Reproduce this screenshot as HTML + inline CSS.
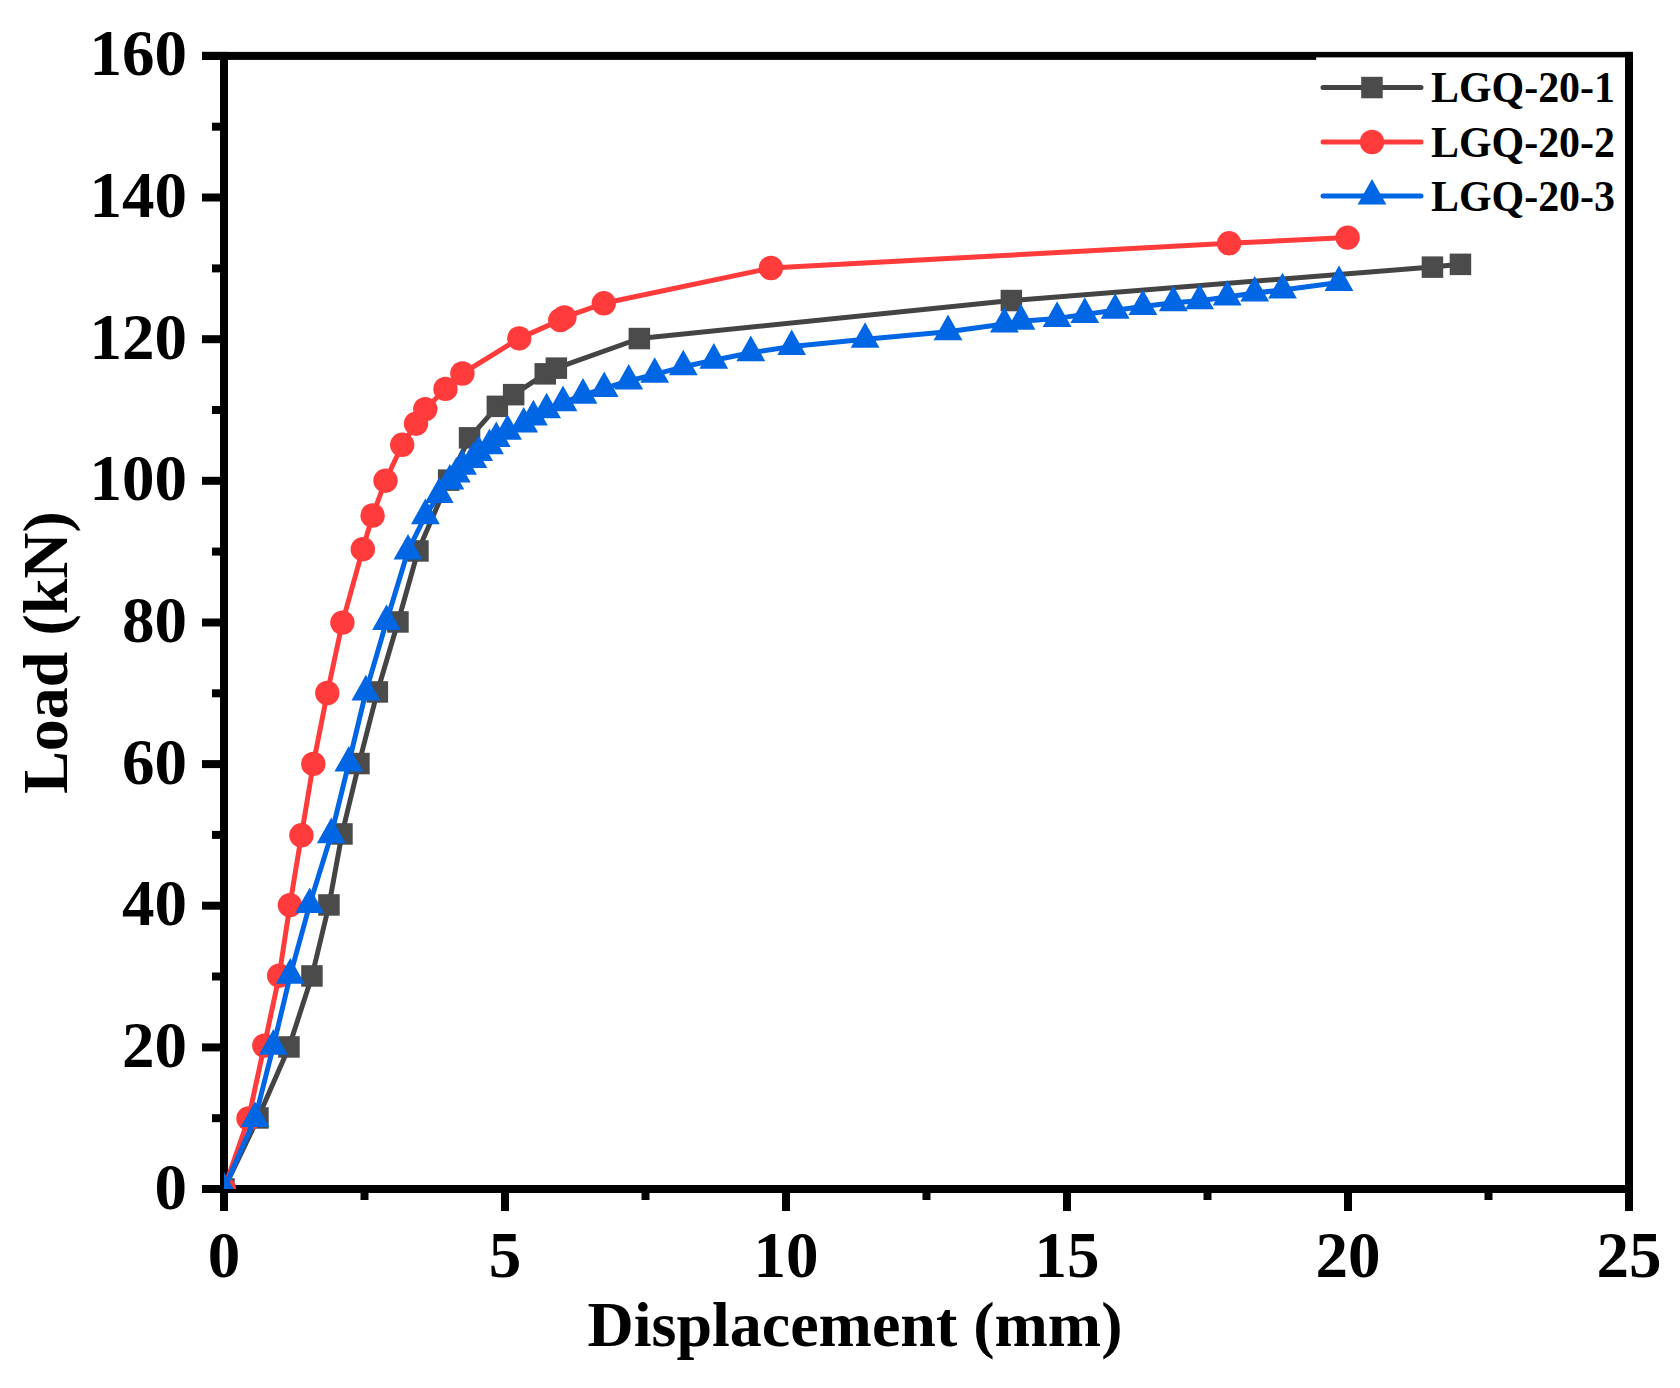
<!DOCTYPE html><html><head><meta charset="utf-8"><title>Load-Displacement</title><style>html,body{margin:0;padding:0;background:#fff;}svg{display:block;}text{font-family:"Liberation Serif",serif;font-weight:bold;fill:#000;}</style></head><body>
<svg width="1680" height="1388" viewBox="0 0 1680 1388">
<rect width="1680" height="1388" fill="#fff"/>
<defs><clipPath id="c"><rect x="224.0" y="55.9" width="1405.0" height="1133.1"/></clipPath></defs>
<g fill="#000">
<rect x="202" y="51.9" width="1431" height="8"/>
<rect x="202" y="1185" width="1431" height="8"/>
<rect x="220" y="51.9" width="8" height="1141.1"/>
<rect x="1625" y="51.9" width="8" height="1141.1"/>
<rect x="202" y="1185" width="18" height="8"/>
<rect x="212" y="1114.2" width="8" height="8"/>
<rect x="202" y="1043.4" width="18" height="8"/>
<rect x="212" y="972.5" width="8" height="8"/>
<rect x="202" y="901.7" width="18" height="8"/>
<rect x="212" y="830.9" width="8" height="8"/>
<rect x="202" y="760.1" width="18" height="8"/>
<rect x="212" y="689.3" width="8" height="8"/>
<rect x="202" y="618.5" width="18" height="8"/>
<rect x="212" y="547.6" width="8" height="8"/>
<rect x="202" y="476.8" width="18" height="8"/>
<rect x="212" y="406" width="8" height="8"/>
<rect x="202" y="335.2" width="18" height="8"/>
<rect x="212" y="264.4" width="8" height="8"/>
<rect x="202" y="193.5" width="18" height="8"/>
<rect x="212" y="122.7" width="8" height="8"/>
<rect x="202" y="51.9" width="18" height="8"/>
<rect x="220" y="1193" width="8" height="18"/>
<rect x="360.5" y="1193" width="8" height="7"/>
<rect x="501" y="1193" width="8" height="18"/>
<rect x="641.5" y="1193" width="8" height="7"/>
<rect x="782" y="1193" width="8" height="18"/>
<rect x="922.5" y="1193" width="8" height="7"/>
<rect x="1063" y="1193" width="8" height="18"/>
<rect x="1203.5" y="1193" width="8" height="7"/>
<rect x="1344" y="1193" width="8" height="18"/>
<rect x="1484.5" y="1193" width="8" height="7"/>
<rect x="1625" y="1193" width="8" height="18"/>
</g>
<g font-size="65">
<text x="187" y="1208.5" text-anchor="end">0</text>
<text x="187" y="1066.9" text-anchor="end">20</text>
<text x="187" y="925.2" text-anchor="end">40</text>
<text x="187" y="783.6" text-anchor="end">60</text>
<text x="187" y="642" text-anchor="end">80</text>
<text x="187" y="500.3" text-anchor="end">100</text>
<text x="187" y="358.7" text-anchor="end">120</text>
<text x="187" y="217" text-anchor="end">140</text>
<text x="187" y="75.4" text-anchor="end">160</text>
<text x="224" y="1276.5" text-anchor="middle">0</text>
<text x="505" y="1276.5" text-anchor="middle">5</text>
<text x="786" y="1276.5" text-anchor="middle">10</text>
<text x="1067" y="1276.5" text-anchor="middle">15</text>
<text x="1348" y="1276.5" text-anchor="middle">20</text>
<text x="1629" y="1276.5" text-anchor="middle">25</text>
</g>
<text x="855" y="1346" font-size="64" text-anchor="middle">Displacement (mm)</text>
<text transform="translate(67 652.5) rotate(-90)" font-size="64" text-anchor="middle">Load (kN)</text>
<rect x="1316.2" y="57.4" width="308.8" height="170" fill="#fff"/>
<g clip-path="url(#c)">
<polyline fill="none" stroke="#444444" stroke-width="5" stroke-linejoin="round" points="224,1189 258,1118 289,1047 312,976 329,905 342,834 359,763.5 377.3,692 398,622 418,551 448.6,480.2 469.5,437.8 497.4,406.4 513.6,394.7 545.3,373.9 556.4,368.1 639.4,338.5 1011.4,300.5 1432.4,267.1 1460.4,264.3"/>
<rect x="213.2" y="1178.2" width="21.5" height="21.5" fill="#4B4B4B"/><rect x="247.2" y="1107.2" width="21.5" height="21.5" fill="#4B4B4B"/><rect x="278.2" y="1036.2" width="21.5" height="21.5" fill="#4B4B4B"/><rect x="301.2" y="965.2" width="21.5" height="21.5" fill="#4B4B4B"/><rect x="318.2" y="894.2" width="21.5" height="21.5" fill="#4B4B4B"/><rect x="331.2" y="823.2" width="21.5" height="21.5" fill="#4B4B4B"/><rect x="348.2" y="752.8" width="21.5" height="21.5" fill="#4B4B4B"/><rect x="366.6" y="681.2" width="21.5" height="21.5" fill="#4B4B4B"/><rect x="387.2" y="611.2" width="21.5" height="21.5" fill="#4B4B4B"/><rect x="407.2" y="540.2" width="21.5" height="21.5" fill="#4B4B4B"/><rect x="437.9" y="469.4" width="21.5" height="21.5" fill="#4B4B4B"/><rect x="458.8" y="427.1" width="21.5" height="21.5" fill="#4B4B4B"/><rect x="486.6" y="395.6" width="21.5" height="21.5" fill="#4B4B4B"/><rect x="502.9" y="383.9" width="21.5" height="21.5" fill="#4B4B4B"/><rect x="534.5" y="363.1" width="21.5" height="21.5" fill="#4B4B4B"/><rect x="545.6" y="357.4" width="21.5" height="21.5" fill="#4B4B4B"/><rect x="628.6" y="327.8" width="21.5" height="21.5" fill="#4B4B4B"/><rect x="1000.6" y="289.8" width="21.5" height="21.5" fill="#4B4B4B"/><rect x="1421.7" y="256.4" width="21.5" height="21.5" fill="#4B4B4B"/><rect x="1449.7" y="253.6" width="21.5" height="21.5" fill="#4B4B4B"/>
<polyline fill="none" stroke="#FF3B3B" stroke-width="5" stroke-linejoin="round" points="224,1189 248.5,1118.5 264.3,1045.6 279.2,975.7 289.9,905.1 301.4,835.3 313.3,763.9 327.3,693 342.4,622.6 362.8,549.2 372.6,515.5 385.5,480.7 402.2,444.8 416,423.7 425.3,409.1 445.5,388.9 462.4,373.5 519.2,338.4 560.3,320.1 564.4,317.4 603.8,303.3 770.9,268 1229.1,243.3 1347.6,237.6"/>
<circle cx="224" cy="1189" r="12.2" fill="#FF3B3B"/><circle cx="248.5" cy="1118.5" r="12.2" fill="#FF3B3B"/><circle cx="264.3" cy="1045.6" r="12.2" fill="#FF3B3B"/><circle cx="279.2" cy="975.7" r="12.2" fill="#FF3B3B"/><circle cx="289.9" cy="905.1" r="12.2" fill="#FF3B3B"/><circle cx="301.4" cy="835.3" r="12.2" fill="#FF3B3B"/><circle cx="313.3" cy="763.9" r="12.2" fill="#FF3B3B"/><circle cx="327.3" cy="693" r="12.2" fill="#FF3B3B"/><circle cx="342.4" cy="622.6" r="12.2" fill="#FF3B3B"/><circle cx="362.8" cy="549.2" r="12.2" fill="#FF3B3B"/><circle cx="372.6" cy="515.5" r="12.2" fill="#FF3B3B"/><circle cx="385.5" cy="480.7" r="12.2" fill="#FF3B3B"/><circle cx="402.2" cy="444.8" r="12.2" fill="#FF3B3B"/><circle cx="416" cy="423.7" r="12.2" fill="#FF3B3B"/><circle cx="425.3" cy="409.1" r="12.2" fill="#FF3B3B"/><circle cx="445.5" cy="388.9" r="12.2" fill="#FF3B3B"/><circle cx="462.4" cy="373.5" r="12.2" fill="#FF3B3B"/><circle cx="519.2" cy="338.4" r="12.2" fill="#FF3B3B"/><circle cx="560.3" cy="320.1" r="12.2" fill="#FF3B3B"/><circle cx="564.4" cy="317.4" r="12.2" fill="#FF3B3B"/><circle cx="603.8" cy="303.3" r="12.2" fill="#FF3B3B"/><circle cx="770.9" cy="268" r="12.2" fill="#FF3B3B"/><circle cx="1229.1" cy="243.3" r="12.2" fill="#FF3B3B"/><circle cx="1347.6" cy="237.6" r="12.2" fill="#FF3B3B"/>
<polyline fill="none" stroke="#0066E3" stroke-width="5" stroke-linejoin="round" points="224,1189 255,1118.6 273.4,1046.2 290.3,975.2 309.7,904.6 331.3,834.7 348.8,763.1 365.9,691.9 386.5,621.5 408,551 425.4,515.7 439.2,494.4 449.9,481 456.3,474.1 462.5,466.2 472.9,459.4 478.7,452.5 489.5,445.7 496.3,438.5 507.5,431.3 523.7,424.1 533.4,416.9 546.6,409.8 563,402.7 583,395.2 604.2,388.5 628.7,381 654.7,374.3 683.3,366.8 713.8,360.2 750.8,352.7 791.7,346.5 865.1,339.3 948,331.7 1004.4,324.1 1021,321.2 1057.1,318.4 1084.8,314.4 1115.2,310.3 1142.9,306.5 1173.3,302.7 1199.6,300.8 1227.2,297 1254.7,293.1 1282.5,289.9 1339,282.5"/>
<path d="M224 1171.9L209.6 1197.5L238.4 1197.5Z" fill="#0066E3"/><path d="M255 1101.5L240.6 1127.1L269.4 1127.1Z" fill="#0066E3"/><path d="M273.4 1029.1L259 1054.7L287.8 1054.7Z" fill="#0066E3"/><path d="M290.3 958.1L275.9 983.7L304.7 983.7Z" fill="#0066E3"/><path d="M309.7 887.5L295.3 913.1L324.1 913.1Z" fill="#0066E3"/><path d="M331.3 817.6L316.9 843.2L345.7 843.2Z" fill="#0066E3"/><path d="M348.8 746L334.4 771.6L363.2 771.6Z" fill="#0066E3"/><path d="M365.9 674.8L351.5 700.4L380.3 700.4Z" fill="#0066E3"/><path d="M386.5 604.4L372.1 630L400.9 630Z" fill="#0066E3"/><path d="M408 533.9L393.6 559.5L422.4 559.5Z" fill="#0066E3"/><path d="M425.4 498.6L411 524.2L439.8 524.2Z" fill="#0066E3"/><path d="M439.2 477.3L424.8 502.9L453.6 502.9Z" fill="#0066E3"/><path d="M449.9 463.9L435.5 489.5L464.3 489.5Z" fill="#0066E3"/><path d="M456.3 457L441.9 482.6L470.7 482.6Z" fill="#0066E3"/><path d="M462.5 449.1L448.1 474.7L476.9 474.7Z" fill="#0066E3"/><path d="M472.9 442.3L458.5 467.9L487.3 467.9Z" fill="#0066E3"/><path d="M478.7 435.4L464.3 461L493.1 461Z" fill="#0066E3"/><path d="M489.5 428.6L475.1 454.2L503.9 454.2Z" fill="#0066E3"/><path d="M496.3 421.4L481.9 447L510.7 447Z" fill="#0066E3"/><path d="M507.5 414.2L493.1 439.8L521.9 439.8Z" fill="#0066E3"/><path d="M523.7 407L509.3 432.6L538.1 432.6Z" fill="#0066E3"/><path d="M533.4 399.8L519 425.4L547.8 425.4Z" fill="#0066E3"/><path d="M546.6 392.7L532.2 418.3L561 418.3Z" fill="#0066E3"/><path d="M563 385.6L548.6 411.2L577.4 411.2Z" fill="#0066E3"/><path d="M583 378.1L568.6 403.7L597.4 403.7Z" fill="#0066E3"/><path d="M604.2 371.4L589.8 397L618.6 397Z" fill="#0066E3"/><path d="M628.7 363.9L614.3 389.5L643.1 389.5Z" fill="#0066E3"/><path d="M654.7 357.2L640.3 382.8L669.1 382.8Z" fill="#0066E3"/><path d="M683.3 349.7L668.9 375.3L697.7 375.3Z" fill="#0066E3"/><path d="M713.8 343.1L699.4 368.7L728.2 368.7Z" fill="#0066E3"/><path d="M750.8 335.6L736.4 361.2L765.2 361.2Z" fill="#0066E3"/><path d="M791.7 329.4L777.3 355L806.1 355Z" fill="#0066E3"/><path d="M865.1 322.2L850.7 347.8L879.5 347.8Z" fill="#0066E3"/><path d="M948 314.6L933.6 340.2L962.4 340.2Z" fill="#0066E3"/><path d="M1004.4 307L990 332.6L1018.8 332.6Z" fill="#0066E3"/><path d="M1021 304.1L1006.6 329.7L1035.4 329.7Z" fill="#0066E3"/><path d="M1057.1 301.3L1042.7 326.9L1071.5 326.9Z" fill="#0066E3"/><path d="M1084.8 297.3L1070.4 322.9L1099.2 322.9Z" fill="#0066E3"/><path d="M1115.2 293.2L1100.8 318.8L1129.6 318.8Z" fill="#0066E3"/><path d="M1142.9 289.4L1128.5 315L1157.3 315Z" fill="#0066E3"/><path d="M1173.3 285.6L1158.9 311.2L1187.7 311.2Z" fill="#0066E3"/><path d="M1199.6 283.7L1185.2 309.3L1214 309.3Z" fill="#0066E3"/><path d="M1227.2 279.9L1212.8 305.5L1241.6 305.5Z" fill="#0066E3"/><path d="M1254.7 276L1240.3 301.6L1269.1 301.6Z" fill="#0066E3"/><path d="M1282.5 272.8L1268.1 298.4L1296.9 298.4Z" fill="#0066E3"/><path d="M1339 265.4L1324.6 291L1353.4 291Z" fill="#0066E3"/>
</g>
<line x1="1323" y1="87.6" x2="1421" y2="87.6" stroke="#444444" stroke-width="5" stroke-linecap="round"/>
<rect x="1361.2" y="76.8" width="21.5" height="21.5" fill="#4B4B4B"/>
<text x="1431" y="102.2" font-size="44" textLength="184" lengthAdjust="spacingAndGlyphs">LGQ-20-1</text>
<line x1="1323" y1="142" x2="1421" y2="142" stroke="#FF3B3B" stroke-width="5" stroke-linecap="round"/>
<circle cx="1372" cy="142" r="12.2" fill="#FF3B3B"/>
<text x="1431" y="156.6" font-size="44" textLength="184" lengthAdjust="spacingAndGlyphs">LGQ-20-2</text>
<line x1="1323" y1="196" x2="1421" y2="196" stroke="#0066E3" stroke-width="5" stroke-linecap="round"/>
<path d="M1372 178.9L1357.6 204.5L1386.4 204.5Z" fill="#0066E3"/>
<text x="1431" y="210.6" font-size="44" textLength="184" lengthAdjust="spacingAndGlyphs">LGQ-20-3</text>
</svg></body></html>
